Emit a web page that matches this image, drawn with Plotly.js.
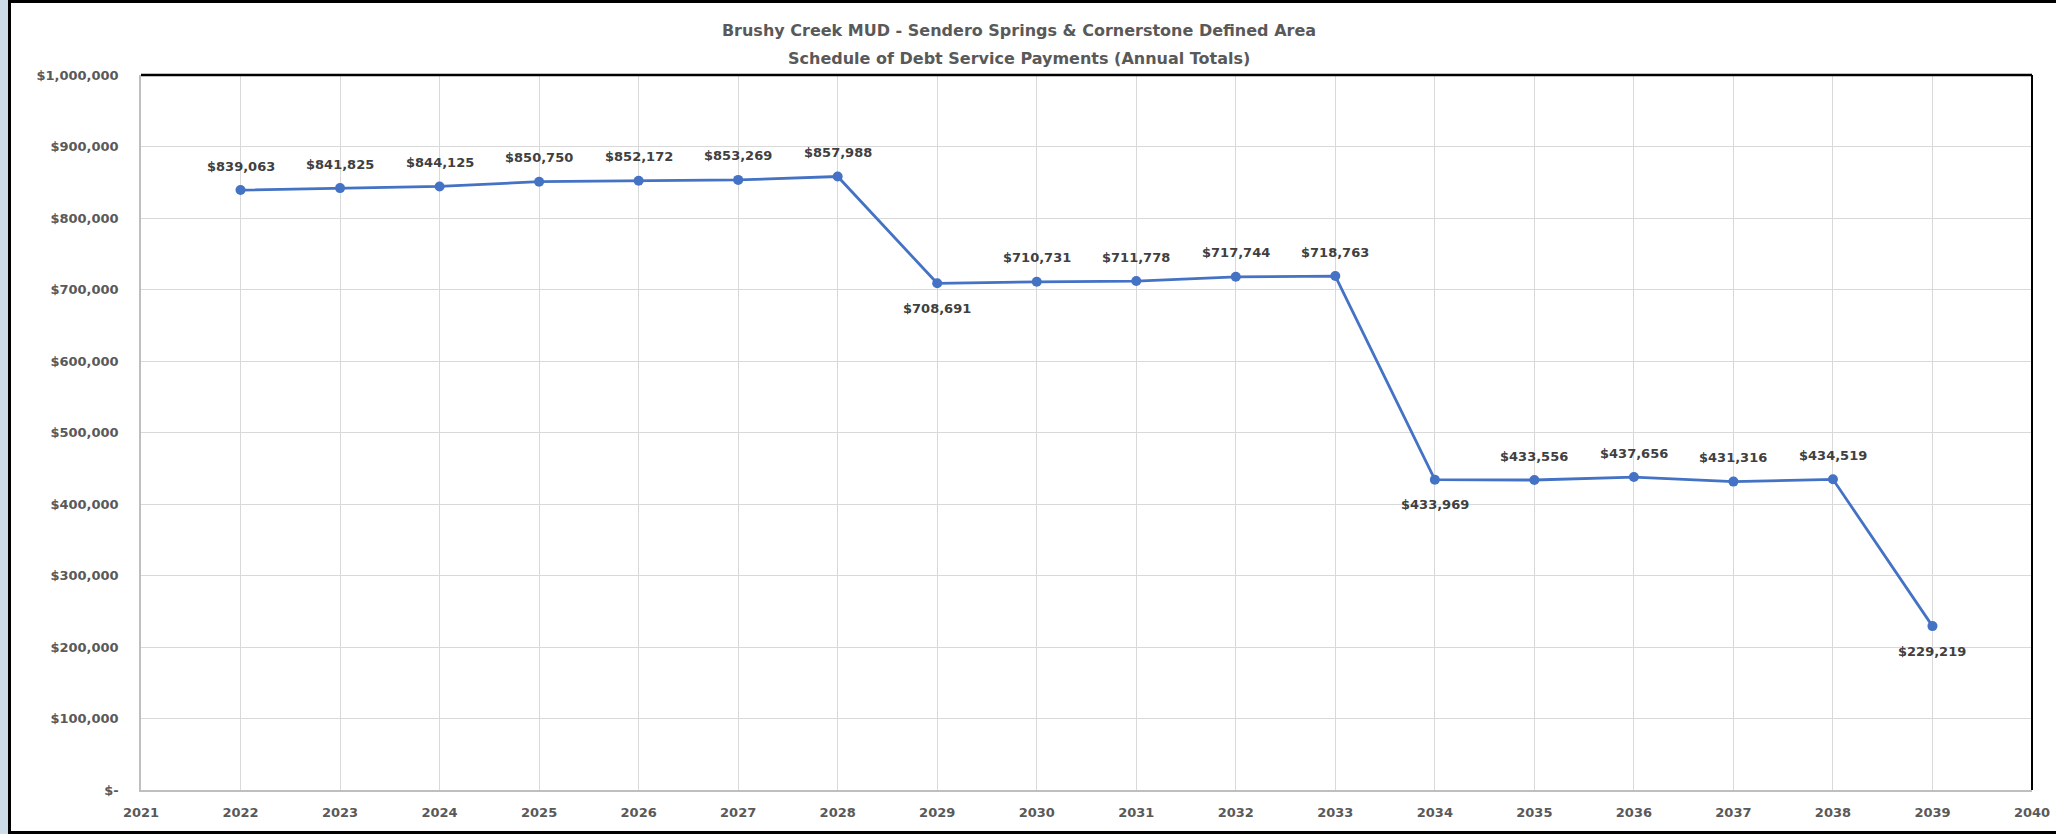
<!DOCTYPE html>
<html>
<head>
<meta charset="utf-8">
<script src="https://cdn.plot.ly/plotly-3.0.1.min.js"></script>
<style>
  html, body { margin: 0; padding: 0; background: #ffffff; }
  #frame { position: relative; width: 2056px; height: 834px; overflow: hidden; background: #ffffff; }
  #strip { position: absolute; left: 0; top: 0; width: 8px; height: 834px; background: #ccdbe8; }
  #box { position: absolute; left: 8px; top: 0; width: 2048px; height: 828px;
         border-left: 3px solid #000; border-top: 3px solid #000; border-bottom: 3px solid #000; }
  #chart { position: absolute; left: 3px; top: 0; width: 2045px; height: 828px; }
</style>
</head>
<body>
<div id="frame">
  <div id="strip"></div>
  <div id="box"><div id="chart"></div></div>
</div>
<script>
// ---- data ----
const years = [2022, 2023, 2024, 2025, 2026, 2027, 2028, 2029, 2030, 2031, 2032, 2033, 2034, 2035, 2036, 2037, 2038, 2039];
const payments = [839063, 841825, 844125, 850750, 852172, 853269, 857988, 708691, 710731, 711778, 717744, 718763, 433969, 433556, 437656, 431316, 434519, 229219];
const labelBelow = [false, false, false, false, false, false, false, true, false, false, false, false, true, false, false, false, false, true];
const yTickVals = [0, 100000, 200000, 300000, 400000, 500000, 600000, 700000, 800000, 900000, 1000000];
const yTickText = ['$-', '$100,000', '$200,000', '$300,000', '$400,000', '$500,000', '$600,000', '$700,000', '$800,000', '$900,000', '$1,000,000'];
const xTickVals = [2021, 2022, 2023, 2024, 2025, 2026, 2027, 2028, 2029, 2030, 2031, 2032, 2033, 2034, 2035, 2036, 2037, 2038, 2039, 2040];
const titleLine1 = 'Brushy Creek MUD - Sendero Springs & Cornerstone Defined Area';
const titleLine2 = 'Schedule of Debt Service Payments (Annual Totals)';

const fmt = v => '$' + v.toLocaleString('en-US');
const FONT = 'DejaVu Sans, Verdana, sans-serif';

const trace = {
  x: years,
  y: payments,
  type: 'scatter',
  mode: 'lines+markers',
  line: { color: '#4472C4', width: 2.8 },
  marker: { color: '#4472C4', size: 10 },
  hoverinfo: 'x+y',
  showlegend: false
};

const annotations = years.map((yr, i) => ({
  x: yr,
  y: payments[i],
  xref: 'x', yref: 'y',
  text: fmt(payments[i]),
  showarrow: false,
  xanchor: 'center',
  yanchor: 'middle',
  yshift: labelBelow[i] ? -25 : 24,
  font: { family: FONT, size: 13, color: '#404040', weight: 'bold' }
}));

annotations.push({
  x: 0.4643, y: 1.0225, xref: 'paper', yref: 'paper',
  text: titleLine2, showarrow: false, xanchor: 'center', yanchor: 'middle',
  font: { family: FONT, size: 16, color: '#595959', weight: 'bold' }
});

const layout = {
  width: 2045,
  height: 828,
  paper_bgcolor: '#ffffff',
  plot_bgcolor: '#ffffff',
  margin: { l: 127, r: 27, t: 72, b: 41, pad: 0 },
  title: {
    text: titleLine1,
    x: 0.4643, xref: 'paper', xanchor: 'center',
    y: 1 - 27 / 828, yref: 'container', yanchor: 'middle',
    font: { family: FONT, size: 16, color: '#595959', weight: 'bold' }
  },
  xaxis: {
    range: [2021, 2040],
    tickmode: 'array',
    tickvals: xTickVals,
    ticktext: xTickVals.map(String),
    showgrid: true,
    gridcolor: '#d9d9d9',
    gridwidth: 1.4,
    zeroline: false,
    showline: true,
    linecolor: '#bfbfbf',
    linewidth: 1.5,
    ticks: '',
    ticklabelstandoff: 10,
    tickfont: { family: FONT, size: 13, color: '#595959', weight: 'bold' },
    fixedrange: true
  },
  yaxis: {
    range: [0, 1000000],
    tickmode: 'array',
    tickvals: yTickVals,
    ticktext: yTickText,
    showgrid: true,
    gridcolor: '#d9d9d9',
    gridwidth: 1.4,
    zeroline: false,
    showline: true,
    linecolor: '#bfbfbf',
    linewidth: 1.5,
    ticks: '',
    ticklabelstandoff: 18,
    tickfont: { family: FONT, size: 13, color: '#595959', weight: 'bold' },
    fixedrange: true
  },
  shapes: [
    { type: 'line', xref: 'paper', yref: 'paper', x0: 0, x1: 1, y0: 1, y1: 1, line: { color: '#000000', width: 2.5 } },
    { type: 'line', xref: 'paper', yref: 'paper', x0: 1, x1: 1, y0: 0, y1: 1, line: { color: '#000000', width: 2 } }
  ],
  annotations: annotations
};

Plotly.newPlot('chart', [trace], layout, { displayModeBar: false, staticPlot: false });
</script>
</body>
</html>
